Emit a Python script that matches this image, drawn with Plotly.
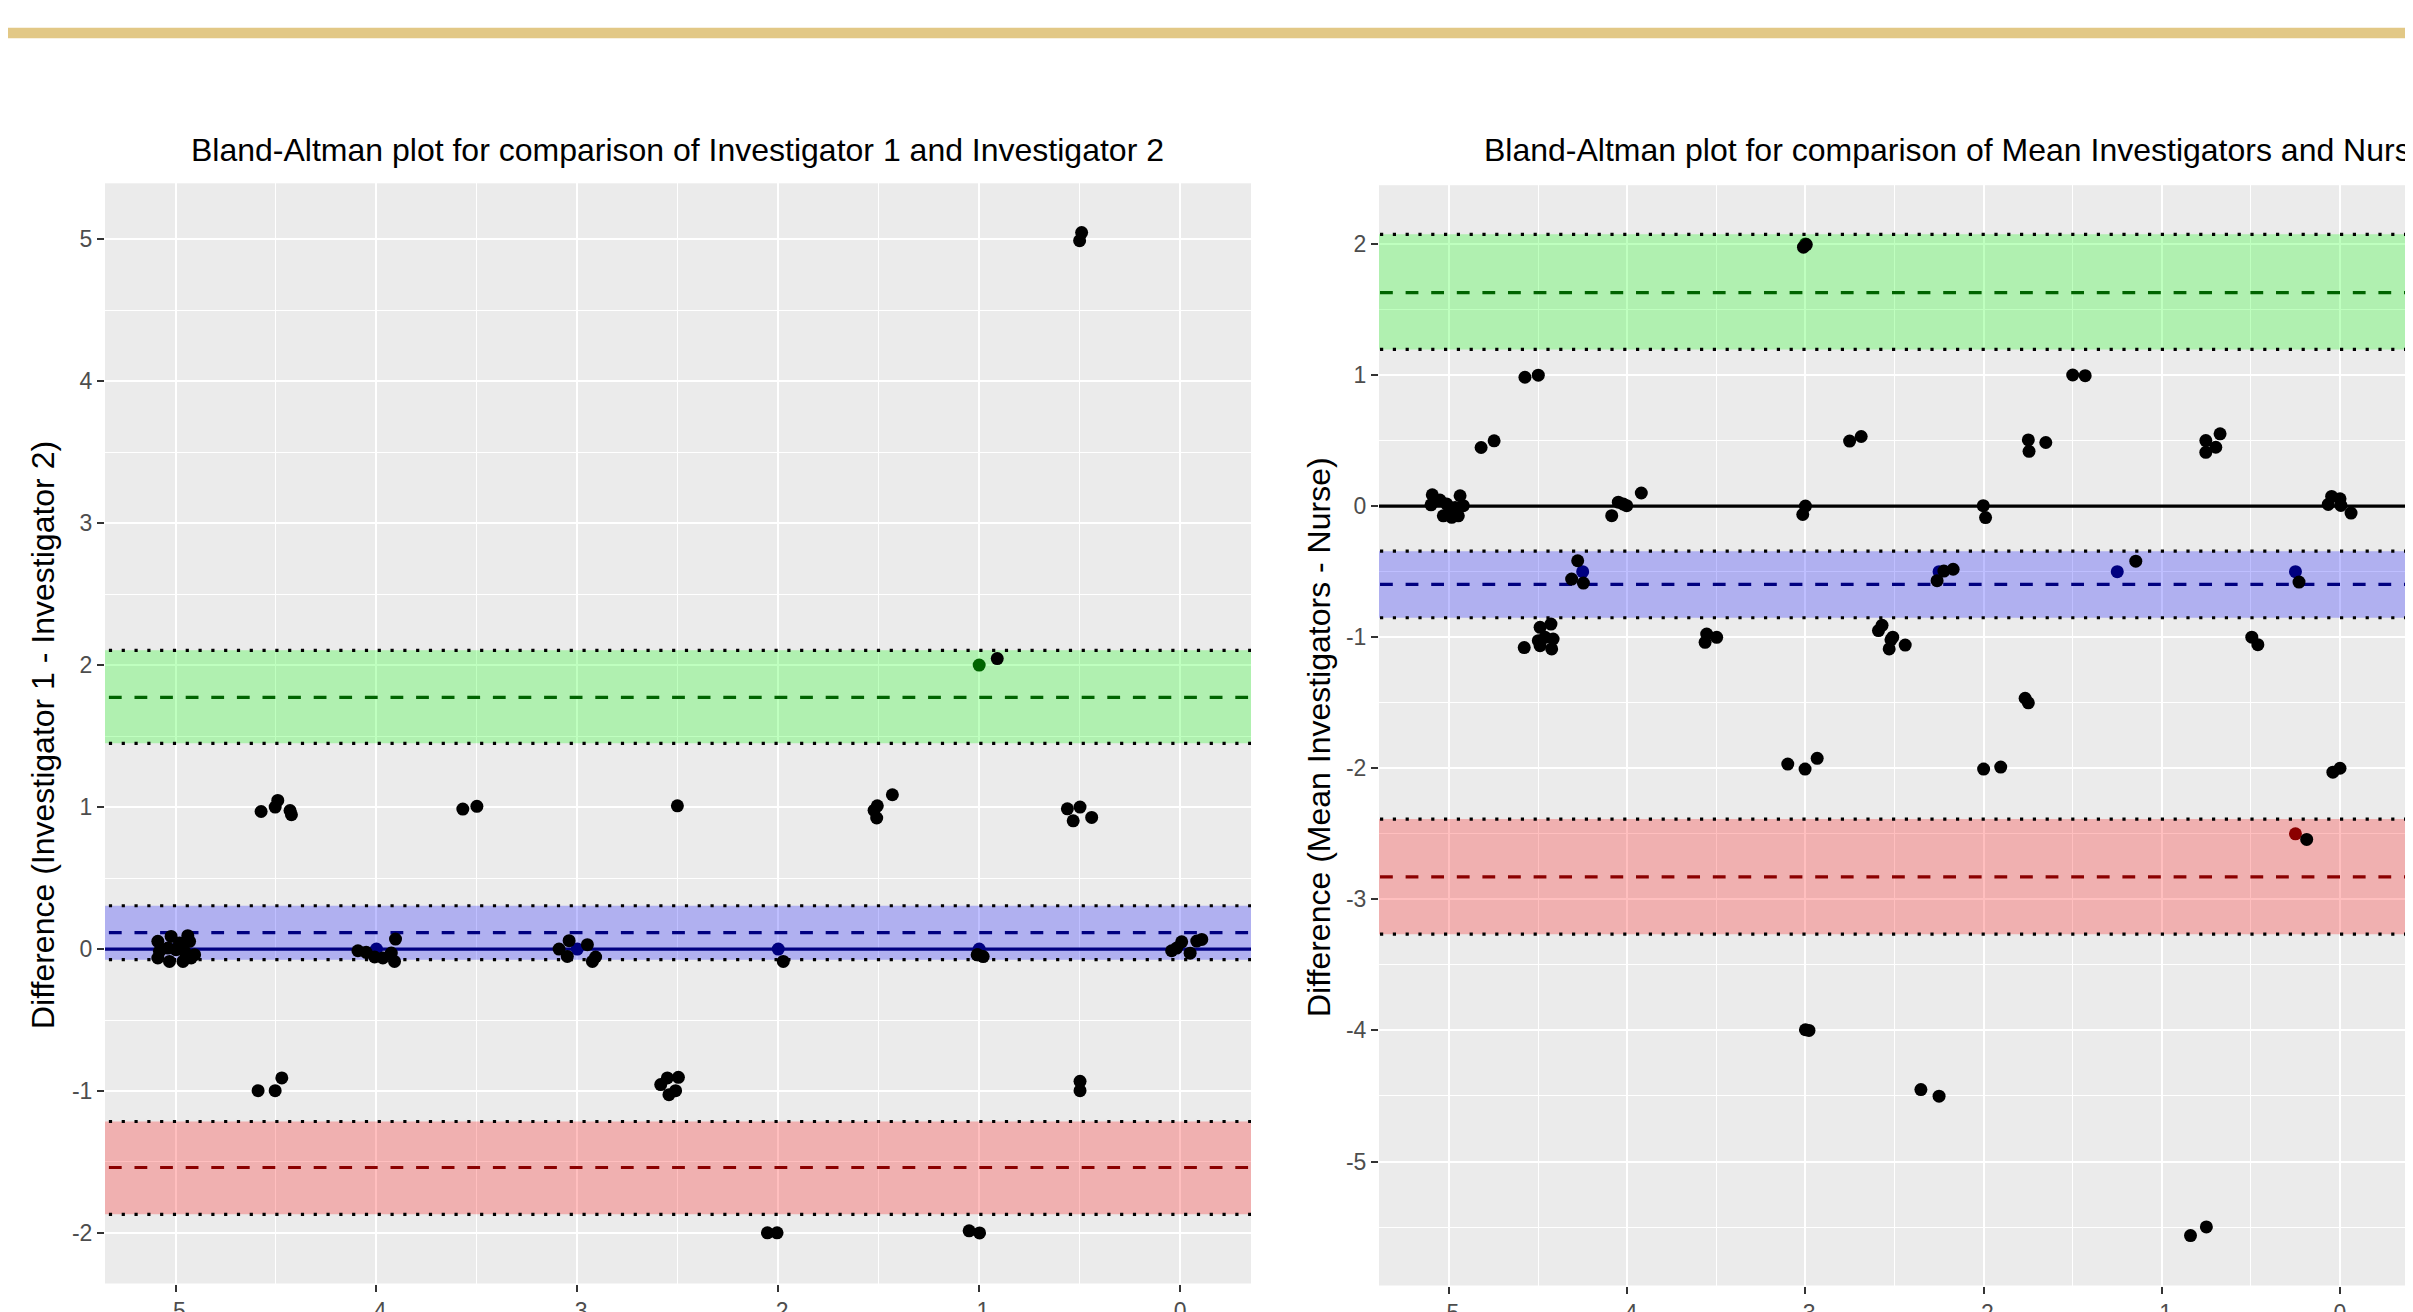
import plotly.graph_objects as go

W, H = 2413, 1312
OFF = 8  # page body margin: figure is drawn 8 px in from the top-left of the page

# ---------------- Data: panel 1 (Investigator 1 vs Investigator 2) ----------------
p1_title = "Bland-Altman plot for comparison of Investigator 1 and Investigator 2"
p1_ytitle = "Difference (Investigator 1 - Investigator 2)"
p1_bias, p1_bias_lo, p1_bias_hi = 0.115, -0.075, 0.305
p1_upper, p1_upper_lo, p1_upper_hi = 1.773, 1.449, 2.104
p1_lower, p1_lower_lo, p1_lower_hi = -1.539, -1.869, -1.215
p1_green_x = [-1.0]
p1_green_y = [2.0]
p1_navy_x = [-5.0, -4.0, -3.0, -2.0, -1.0]
p1_navy_y = [0.0, 0.0, 0.0, 0.0, 0.0]
p1_x = [
    -5.088, -5.022, -4.939, -4.930, -5.080, -5.038, -4.997, -4.955, -4.905, -5.088,
    -5.030, -4.963, -4.922, -4.980,
    -4.574, -4.491, -4.504, -4.430, -4.423,
    -3.570, -3.500,
    -4.589, -4.504, -4.471,
    -4.092, -4.051, -4.009, -3.968, -3.926, -3.910, -3.905,
    -3.091, -3.041, -3.050, -2.950, -2.909, -2.925,
    -2.502,
    -2.585, -2.552, -2.497, -2.511, -2.544,
    -1.975,
    -1.523, -1.507, -1.510, -1.432,
    -1.007, -1.010, -0.980,
    -0.910,
    -0.561, -0.498, -0.532, -0.440,
    -0.042, 0.008, 0.050, 0.083, 0.108, -0.017,
    -0.498, -0.498,
    -0.490, -0.500,
    -2.054, -2.006, -1.050, -0.998,
]
p1_y = [
    0.054, 0.089, 0.094, 0.054, -0.016, 0.007, -0.005, -0.016, -0.040, -0.063,
    -0.087, -0.087, -0.063, 0.042,
    0.969, 1.047, 1.000, 0.976, 0.946,
    0.986, 1.005,
    -0.998, -0.998, -0.908,
    -0.012, -0.023, -0.056, -0.063, -0.028, -0.087, 0.070,
    0.000, 0.059, -0.052, 0.031, -0.056, -0.087,
    1.009,
    -0.955, -0.908, -0.904, -0.998, -1.026,
    -0.087,
    0.977, 1.009, 0.923, 1.087,
    -0.040, -0.041, -0.053,
    2.046,
    0.988, 1.000, 0.903, 0.927,
    -0.012, 0.051, -0.029, 0.056, 0.068, 0.007,
    -0.932, -0.998,
    5.047, 4.990,
    -1.999, -1.999, -1.985, -2.000,
]

# ---------------- Data: panel 2 (Mean Investigators vs Nurse) ----------------
p2_title = "Bland-Altman plot for comparison of Mean Investigators and Nurse"
p2_ytitle = "Difference (Mean Investigators - Nurse)"
p2_bias, p2_bias_lo, p2_bias_hi = -0.598, -0.852, -0.344
p2_upper, p2_upper_lo, p2_upper_hi = 1.629, 1.195, 2.073
p2_lower, p2_lower_lo, p2_lower_hi = -2.828, -3.266, -2.388
p2_green_x = [-3.0]
p2_green_y = [2.0]
p2_navy_x = [-4.25, -2.25, -1.25, -0.25]
p2_navy_y = [-0.5, -0.5, -0.5, -0.5]
p2_red_x = [-0.25]
p2_red_y = [-2.5]
p2_x = [
    -4.574, -4.499,
    -4.820, -4.747,
    -5.094, -5.051, -4.938, -5.101, -5.013, -4.966, -4.920, -5.032, -4.985, -4.948, -4.994,
    -4.087, -4.050, -4.022, -4.003, -3.921,
    -4.278, -4.312, -4.246,
    -4.578, -4.489, -4.428, -4.499, -4.461, -4.416, -4.424, -4.489,
    -3.554, -3.498, -3.563,
    -3.011, -2.995,
    -2.752, -2.687,
    -3.000, -3.015,
    -2.002, -1.989,
    -1.749, -1.745, -1.651,
    -2.261, -2.171, -2.223,
    -2.590, -2.570, -2.510, -2.530, -2.440, -2.520,
    -1.767, -1.749,
    -3.099, -3.002, -2.934,
    -2.000, -1.904,
    -1.500, -1.430,
    -0.753, -0.673, -0.697, -0.753,
    -0.047, 0.000, -0.066, 0.005, 0.062,
    -1.146, -0.230,
    -0.495, -0.461,
    -0.040, 0.000,
    -0.187,
    -3.000, -2.980,
    -2.352, -2.250,
    -0.839, -0.750,
]
p2_y = [
    0.983, 0.999,
    0.447, 0.498,
    0.086, 0.046, 0.079, 0.010, 0.015, -0.010, 0.003, -0.074, -0.086, -0.074, -0.030,
    -0.073, 0.030, 0.015, 0.003, 0.100,
    -0.417, -0.557, -0.587,
    -1.079, -0.925, -0.900, -1.027, -1.001, -1.014, -1.090, -1.065,
    -0.976, -1.001, -1.039,
    1.975, 1.995,
    0.496, 0.531,
    0.000, -0.064,
    0.003, -0.088,
    0.505, 0.418, 0.485,
    -0.569, -0.482, -0.496,
    -0.950, -0.910, -1.000, -1.090, -1.060, -1.020,
    -1.466, -1.501,
    -1.968, -2.006, -1.924,
    -2.006, -1.991,
    1.000, 0.995,
    0.500, 0.551, 0.449, 0.410,
    0.074, 0.056, 0.013, 0.005, -0.053,
    -0.420, -0.580,
    -1.000, -1.057,
    -2.030, -2.000,
    -2.543,
    -3.995, -4.000,
    -4.451, -4.502,
    -5.565, -5.499,
]

x_ticks = [-5, -4, -3, -2, -1, 0]
x_ticktext = ["-5", "-4", "-3", "-2", "-1", "0"]
p1_y_ticks = [-2, -1, 0, 1, 2, 3, 4, 5]
p1_y_ticktext = ["-2", "-1", "0", "1", "2", "3", "4", "5"]
p2_y_ticks = [-5, -4, -3, -2, -1, 0, 1, 2]
p2_y_ticktext = ["-5", "-4", "-3", "-2", "-1", "0", "1", "2"]

# ---------------- Layout geometry (page pixels) ----------------
FONT = "Liberation Sans, Arial, Helvetica, sans-serif"
p1_px = dict(l=105, r=1251, t=183.3, b=1283.5)
p2_px = dict(l=1379, r=W + OFF, t=185.2, b=1285.5)
p1_xrange = [-5.351, 0.353]
p1_yrange = [-2.356, 5.394]
p2_xrange = [-5.393, (W + OFF - 2340) / 178.2]
p2_yrange = [-5.946, 2.448]


def px(xp):
    return (xp - OFF) / W


def py(yp):
    return 1 - (yp - OFF) / H


fig = go.Figure()


def add_panel(xa, ya, xr, bias, blo, bhi, up, ulo, uhi, lo, llo, lhi, zero_color):
    X = [xr[0] - 1, xr[1] + 1]
    bands = [
        (ulo, uhi, up, "rgba(0,255,0,0.25)", "#006400"),
        (blo, bhi, bias, "rgba(0,0,255,0.25)", "#000080"),
        (llo, lhi, lo, "rgba(255,0,0,0.25)", "#8B0000"),
    ]
    for b_lo, b_hi, mid, fill, dcol in bands:
        fig.add_trace(go.Scatter(
            x=[X[0], X[1], X[1], X[0], X[0]], y=[b_lo, b_lo, b_hi, b_hi, b_lo],
            fill="toself", fillcolor=fill, mode="lines", line=dict(width=0),
            xaxis=xa, yaxis=ya, hoverinfo="skip", showlegend=False))
    fig.add_trace(go.Scatter(x=X, y=[0, 0], mode="lines",
                             line=dict(color=zero_color, width=3.2),
                             xaxis=xa, yaxis=ya, hoverinfo="skip", showlegend=False))
    for b_lo, b_hi, mid, fill, dcol in bands:
        for yy in (b_lo, b_hi):
            fig.add_trace(go.Scatter(x=X, y=[yy, yy], mode="lines",
                                     line=dict(color="black", width=3.2, dash="3.2px,9.6px"),
                                     xaxis=xa, yaxis=ya, hoverinfo="skip", showlegend=False))
        fig.add_trace(go.Scatter(x=X, y=[mid, mid], mode="lines",
                                 line=dict(color=dcol, width=3.2, dash="12.8px,12.8px"),
                                 xaxis=xa, yaxis=ya, hoverinfo="skip", showlegend=False))


def add_points(xs, ys, color, xa, ya):
    fig.add_trace(go.Scatter(x=xs, y=ys, mode="markers",
                             marker=dict(color=color, size=13, line=dict(width=0)),
                             xaxis=xa, yaxis=ya, showlegend=False))


add_panel("x", "y", p1_xrange, p1_bias, p1_bias_lo, p1_bias_hi,
          p1_upper, p1_upper_lo, p1_upper_hi, p1_lower, p1_lower_lo, p1_lower_hi, "#000080")
add_points(p1_green_x, p1_green_y, "#006400", "x", "y")
add_points(p1_navy_x, p1_navy_y, "#000080", "x", "y")
add_points(p1_x, p1_y, "black", "x", "y")

add_panel("x2", "y2", p2_xrange, p2_bias, p2_bias_lo, p2_bias_hi,
          p2_upper, p2_upper_lo, p2_upper_hi, p2_lower, p2_lower_lo, p2_lower_hi, "black")
add_points(p2_green_x, p2_green_y, "#006400", "x2", "y2")
add_points(p2_navy_x, p2_navy_y, "#000080", "x2", "y2")
add_points(p2_red_x, p2_red_y, "#8B0000", "x2", "y2")
add_points(p2_x, p2_y, "black", "x2", "y2")


def xdom(p):
    return [max(0, px(p["l"])), min(1, px(p["r"]))]


def ydom(p):
    return [py(p["b"]), py(p["t"])]


tickfont = dict(family=FONT, size=23, color="#4D4D4D")
common = dict(showgrid=True, gridcolor="white", gridwidth=2.4, zeroline=False,
              showline=False, ticks="outside", ticklen=7, tickwidth=2.2,
              tickcolor="#333333", tickfont=tickfont, automargin=False,
              minor=dict(dtick=0.5, tick0=0, showgrid=True, gridcolor="white",
                         gridwidth=1.2, ticks=""))

fig.update_layout(
    xaxis=dict(domain=xdom(p1_px), range=p1_xrange, tickvals=x_ticks,
               ticktext=x_ticktext, anchor="y", **common),
    yaxis=dict(domain=ydom(p1_px), range=p1_yrange, tickvals=p1_y_ticks,
               ticktext=p1_y_ticktext, anchor="x", **common),
    xaxis2=dict(domain=xdom(p2_px), range=p2_xrange, tickvals=x_ticks,
                ticktext=x_ticktext, anchor="y2", **common),
    yaxis2=dict(domain=ydom(p2_px), range=p2_yrange, tickvals=p2_y_ticks,
                ticktext=p2_y_ticktext, anchor="x2", **common),
)

annotations = [
    dict(text=p1_title, x=px(677), y=py(150), xanchor="center", yanchor="middle",
         font=dict(family=FONT, size=32, color="black")),
    dict(text=p2_title, x=px(1482), y=py(150), xanchor="left", yanchor="middle",
         font=dict(family=FONT, size=32, color="black")),
    dict(text=p1_ytitle, x=px(43), y=py(735), xanchor="center", yanchor="middle",
         textangle=-90, font=dict(family=FONT, size=32, color="black")),
    dict(text=p2_ytitle, x=px(1319), y=py(737), xanchor="center", yanchor="middle",
         textangle=-90, font=dict(family=FONT, size=32, color="black")),
]
for a in annotations:
    a.update(xref="paper", yref="paper", showarrow=False)

fig.update_layout(
    width=W, height=H,
    margin=dict(l=0, r=0, t=0, b=0, pad=0),
    paper_bgcolor="white", plot_bgcolor="#EBEBEB",
    template="none",
    showlegend=False,
    annotations=annotations,
    shapes=[dict(type="rect", xref="paper", yref="paper", x0=0, x1=1,
                 y0=py(38.3), y1=py(27.7), fillcolor="#E2C886",
                 line=dict(width=0), layer="above")],
)

fig.write_html("out.html")
